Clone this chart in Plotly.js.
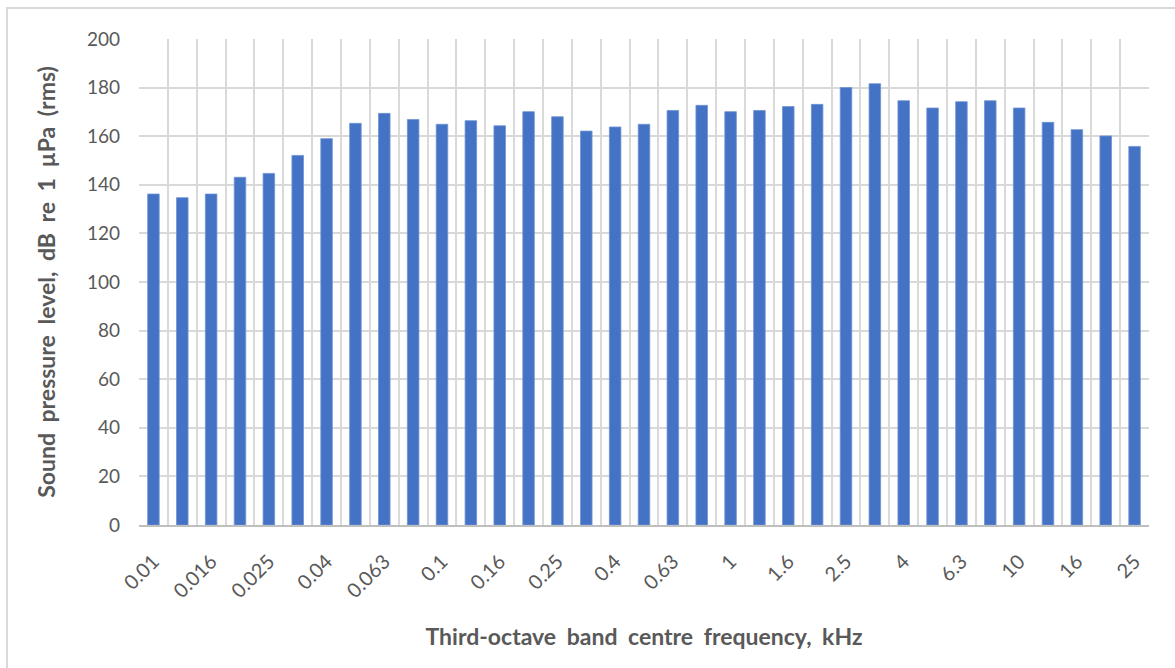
<!DOCTYPE html>
<html>
<head>
<meta charset="utf-8">
<script src="https://cdn.plot.ly/plotly-3.0.1.min.js"></script>
<style>
  html, body { margin: 0; padding: 0; background: #ffffff; overflow: hidden; }
  #frame { position: absolute; left: 6px; top: 7px; width: 1200px; height: 700px; border: 2px solid #d9d9d9; box-sizing: border-box; }
  #chart { position: absolute; left: 0; top: 0; width: 1175px; height: 668px; }
  .xtitle, .ytitle { word-spacing: 5px; }
</style>
</head>
<body>
<div id="frame"></div>
<div id="chart"></div>
<script>
// Third-octave band centre frequencies (kHz)
const bands = ["0.01","0.0125","0.016","0.02","0.025","0.0315","0.04","0.05","0.063","0.08",
               "0.1","0.125","0.16","0.2","0.25","0.315","0.4","0.5","0.63","0.8",
               "1","1.25","1.6","2","2.5","3.15","4","5","6.3","8",
               "10","12.5","16","20","25"];
// Sound pressure level, dB re 1 µPa (rms)
const spl = [136.2,134.7,136.2,143.1,144.7,152.1,159.0,165.3,169.4,166.9,
             164.9,166.4,164.3,170.1,168.0,162.1,163.8,164.9,170.6,172.7,
             170.1,170.6,172.2,173.1,180.0,181.6,174.6,171.6,174.2,174.6,
             171.6,165.7,162.7,160.1,155.8];
// Tick labels: every other band is labelled
const tickLabels = bands.map((b, i) => (i % 2 === 0 ? b : ""));

const trace = {
  type: "bar",
  x: bands,
  y: spl,
  marker: { color: "#4472C4", line: { color: "#6f93d3", width: 0.8 } },
  hoverinfo: "x+y"
};

const font = "Lato, 'Open Sans', sans-serif";
const layout = {
  width: 1175, height: 668,
  paper_bgcolor: "rgba(0,0,0,0)",
  plot_bgcolor: "#ffffff",
  margin: { l: 139, r: 26, t: 39, b: 143 },
  bargap: 0.6,
  showlegend: false,
  xaxis: {
    type: "category",
    tickvals: bands,
    ticktext: tickLabels,
    tickson: "boundaries",
    ticks: "",
    showgrid: true,
    gridcolor: "#d9d9d9",
    gridwidth: 2,
    showline: true,
    linecolor: "#bfbfbf",
    linewidth: 2,
    tickangle: -45,
    ticklabelstandoff: 15,
    tickfont: { family: font, size: 20, color: "#595959" },
    title: { text: "Third-octave band centre frequency, kHz", standoff: 28,
             font: { family: font, size: 23, color: "#595959", weight: "bold" } },
    automargin: false
  },
  yaxis: {
    range: [0, 200],
    dtick: 20,
    showgrid: true,
    gridcolor: "#d9d9d9",
    gridwidth: 2,
    zeroline: false,
    showline: false,
    ticks: "",
    ticklabelstandoff: 18,
    tickfont: { family: font, size: 19, color: "#595959" },
    title: { text: "Sound pressure level, dB re 1 µPa (rms)\u00a0\u00a0", standoff: 24,
             font: { family: font, size: 23, color: "#595959", weight: "bold" } },
    automargin: false
  }
};

Plotly.newPlot("chart", [trace], layout, { displayModeBar: false });
</script>
</body>
</html>
